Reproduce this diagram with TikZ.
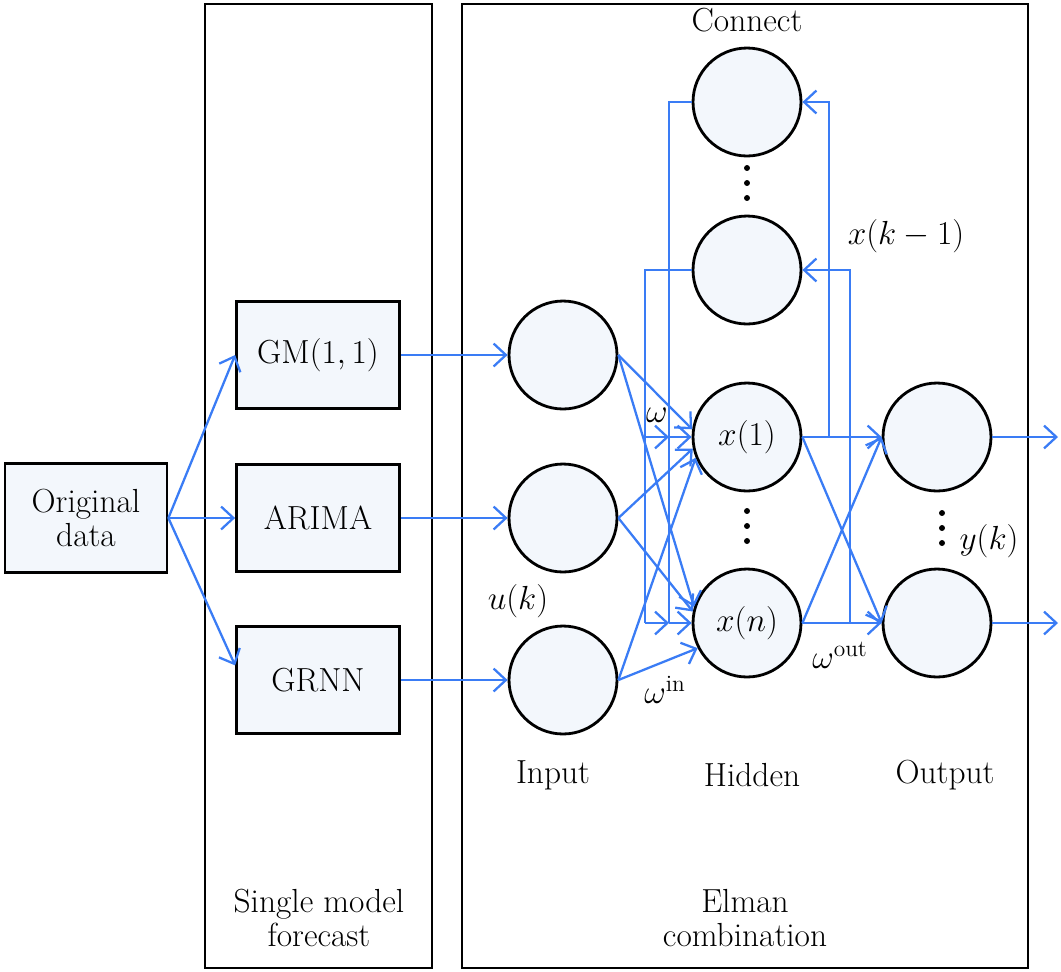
\RequirePackage{fix-cm}
\documentclass[tikz,border=0pt]{standalone}
\usepackage{amsmath}
\usetikzlibrary{arrows.meta}
\definecolor{netblue}{RGB}{58,124,245}
\definecolor{cellfill}{RGB}{243,247,252}

\begin{document}
\begin{tikzpicture}[x=0.02cm,y=-0.02cm,font=\fontsize{19}{23}\selectfont,
    neuron/.style={circle,draw,line width=1.6pt,fill=cellfill,minimum size=2.16cm,inner sep=0pt},
    modelbox/.style={rectangle,draw,line width=1.6pt,fill=cellfill,minimum width=3.26cm,minimum height=2.14cm,align=center},
    panel/.style={draw,line width=1.6pt},
    wire/.style={draw=netblue,line width=1.3pt},
    feed/.style={wire,-{Straight Barb[length=7pt,width=13pt,line width=1.3pt]}}]
    \useasboundingbox (0,0) rectangle (1061,971);
    % the two panels
    \draw [panel] (205,4) rectangle (432,968);
    \draw [panel] (462,4) rectangle (1028,968);

    \node [modelbox,minimum width=3.24cm,minimum height=2.18cm] (orig) at (86,518) {Original\\[-4pt]data};
    \node [modelbox] (gm) at (318,355) {GM$(1,1)$};
    \node [modelbox] (arima) at (318,518) {ARIMA};
    \node [modelbox] (grnn) at (318,680) {GRNN};

    \foreach \n/\y in {1/355,2/518,3/680}
        \node [neuron] (in\n) at (563,\y) {};
    \node [neuron] (c1) at (747,102) {};
    \node [neuron] (c2) at (747,270) {};
    \node [neuron] (h1) at (747,437) {$x(1)$};
    \node [neuron] (hn) at (747,623) {$x(n)$};
    \node [neuron] (o1) at (937,437) {};
    \node [neuron] (o2) at (937,623) {};

    % single models
    \draw [feed] (orig.east) -- (gm.west);
    \draw [feed] (orig.east) -- (arima.west);
    \draw [feed] (orig.east) -- (grnn.170);
    \draw [feed] (gm.east) -- (in1.west);
    \draw [feed] (arima.east) -- (in2.west);
    \draw [feed] (grnn.east) -- (in3.west);

    % input -> hidden
    \draw [feed] (in1.east) -- (h1.172);
    \draw [feed] (in1.east) -- (hn.163);
    \draw [feed] (in2.east) -- (h1.192);
    \draw [feed] (in2.east) -- (hn.168);
    \draw [feed] (in3.east) -- (h1.202);
    \draw [feed] (in3.east) -- (hn.207);

    % connect layer
    \coordinate (busA) at (669,0);
    \coordinate (busB) at (645,0);
    \coordinate (busC) at (829,0);
    \coordinate (busD) at (850,0);
    \draw [wire] (c1.west) -| (busA |- hn.west);
    \draw [wire] (c2.west) -| (busB |- hn.west);
    \draw [feed] (busA |- h1.west) -- (h1.west);
    \draw [feed] (busA |- hn.west) -- (hn.west);
    \draw [feed] (busB |- h1.west) -- (busA |- h1.west);
    \draw [feed] (busB |- hn.west) -- (busA |- hn.west);
    \draw [feed] (busC |- h1.east) |- (c1.east);
    \draw [feed] (busD |- hn.east) |- (c2.east);

    % hidden -> output
    \draw [feed] (h1.east) -- (o1.west);
    \draw [feed] (hn.east) -- (o2.west);
    \draw [feed] (h1.east) -- (o2.west);
    \draw [feed] (hn.east) -- (o1.west);
    \coordinate (y1) at (1058,437);
    \coordinate (y2) at (1058,623);
    \draw [feed] (o1.east) -- (y1);
    \draw [feed] (o2.east) -- (y2);

    % dots
    \foreach \y in {0,15,30} {
        \fill (747,168+\y) circle (1.7pt);
        \fill (747,511+\y) circle (1.7pt);
        \fill (942,513+\y) circle (1.7pt);
    }

    \node (connect) at (747,20) {Connect};
    \node (xprev) at (906,236) {$x(k-1)$};
    \node (w) at (657,415) {$\omega$};
    \node (uk) at (518,601) {$u(k)$};
    \node (win) at (665,690) {$\omega^{\text{in}}$};
    \node (wout) at (840,655) {$\omega^{\text{out}}$};
    \node (yk) at (989,541) {$y(k)$};
    \node (inlab) at (553,775) {Input};
    \node (hidlab) at (752,775) {Hidden};
    \node (outlab) at (945,775) {Output};
    \node [align=center] (single) at (319,918) {Single model\\[-4pt]forecast};
    \node [align=center] (elman) at (745,918) {Elman\\[-4pt]combination};
\end{tikzpicture}
\end{document}
